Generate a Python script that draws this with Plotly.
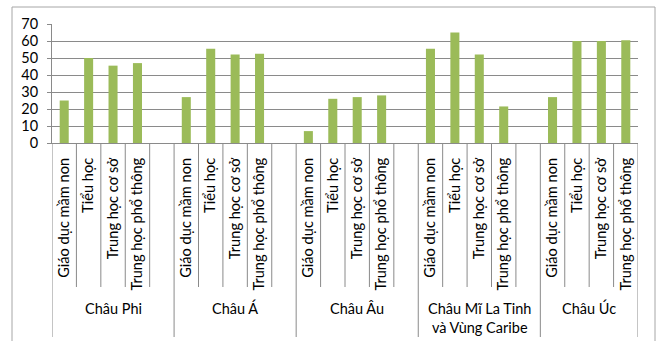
import plotly.graph_objects as go

groups = ["Châu Phi", "Châu Á", "Châu Âu", "Châu Mĩ La Tinh<br>và Vùng Caribe", "Châu Úc"]
levels = ["Giáo dục mầm non", "Tiểu học", "Trung học cơ sở", "Trung học phổ thông"]
values = [
    [25, 50, 45.5, 47],      # Châu Phi
    [27, 55.5, 52, 52.5],    # Châu Á
    [7, 26, 27, 28],         # Châu Âu
    [55.5, 65, 52, 21.5],    # Châu Mĩ La Tinh và Vùng Caribe
    [27, 60, 60, 60.5],      # Châu Úc
]
y_ticks = [0, 10, 20, 30, 40, 50, 60, 70]

SLOTS = 5  # 4 categories + 1 empty slot per group (last group has no empty slot)
xs, ys, tv, tt = [], [], [], []
for g, vals in enumerate(values):
    for i, v in enumerate(vals):
        xs.append(g * SLOTS + i)
        ys.append(v)
        tv.append(g * SLOTS + i)
        tt.append(levels[i])
n_slots = SLOTS * (len(groups) - 1) + len(levels)

W, H = 662, 341
L, R, T, B = 52, 24, 24, 198
pw, ph = W - L - R, H - T - B

def py(px):  # pixel y -> paper y
    return (H - B - px) / ph

def pxx(px):  # pixel x -> paper x
    return (px - L) / pw

GRID = "#8a8a8a"
FONT = "Lato"

fig = go.Figure(go.Bar(x=xs, y=ys, width=0.37, marker=dict(color="#9BBB59", line=dict(width=0)),
                       hoverinfo="x+y"))

shapes = []
# outer frame
shapes.append(dict(type="rect", xref="paper", yref="paper", x0=pxx(12), x1=pxx(655), y0=py(350), y1=py(7),
                   line=dict(color="#a6a6a6", width=1), layer="below"))
group_bounds = set()
for g in range(len(groups)):
    group_bounds.add(g * SLOTS - 0.5)
group_bounds.add(n_slots - 0.5)
for k in range(n_slots + 1):
    xb = k - 0.5
    is_group = xb in group_bounds
    shapes.append(dict(type="line", xref="x", yref="paper", x0=xb, x1=xb, y0=0,
                       y1=py(337) if is_group else py(287), line=dict(color=GRID, width=1)))

annotations = []
for g, name in enumerate(groups):
    n = len(values[g])
    cx = g * SLOTS + (n_slots - g * SLOTS if g == len(groups) - 1 else SLOTS) / 2 - 0.5
    two = "<br>" in name
    annotations.append(dict(x=cx, y=py(318 if two else 308), xref="x", yref="paper", text=name,
                            showarrow=False, font=dict(family=FONT, size=14.5, color="#000"),
                            xanchor="center", yanchor="middle"))

fig.update_layout(
    width=W, height=H, margin=dict(l=L, r=R, t=T, b=B),
    paper_bgcolor="white", plot_bgcolor="white", showlegend=False,
    shapes=shapes, annotations=annotations,
    font=dict(family=FONT, size=14, color="#000"),
    xaxis=dict(range=[-0.5, n_slots - 0.5], tickmode="array", tickvals=tv, ticktext=tt,
               tickangle=-90, ticks="", showgrid=False, zeroline=False,
               showline=True, linecolor=GRID, linewidth=1, ticklabelstandoff=8,
               tickfont=dict(family=FONT, size=14.6, color="#000"), fixedrange=True),
    yaxis=dict(range=[0, 70], tickmode="array", tickvals=y_ticks, ticks="outside", ticklen=4,
               tickcolor=GRID, showgrid=True, gridcolor=GRID, gridwidth=1, zeroline=False,
               showline=True, linecolor=GRID, linewidth=1, ticklabelstandoff=6,
               tickfont=dict(family=FONT, size=14.5, color="#000"), fixedrange=True),
)
fig.write_html("out.html")
